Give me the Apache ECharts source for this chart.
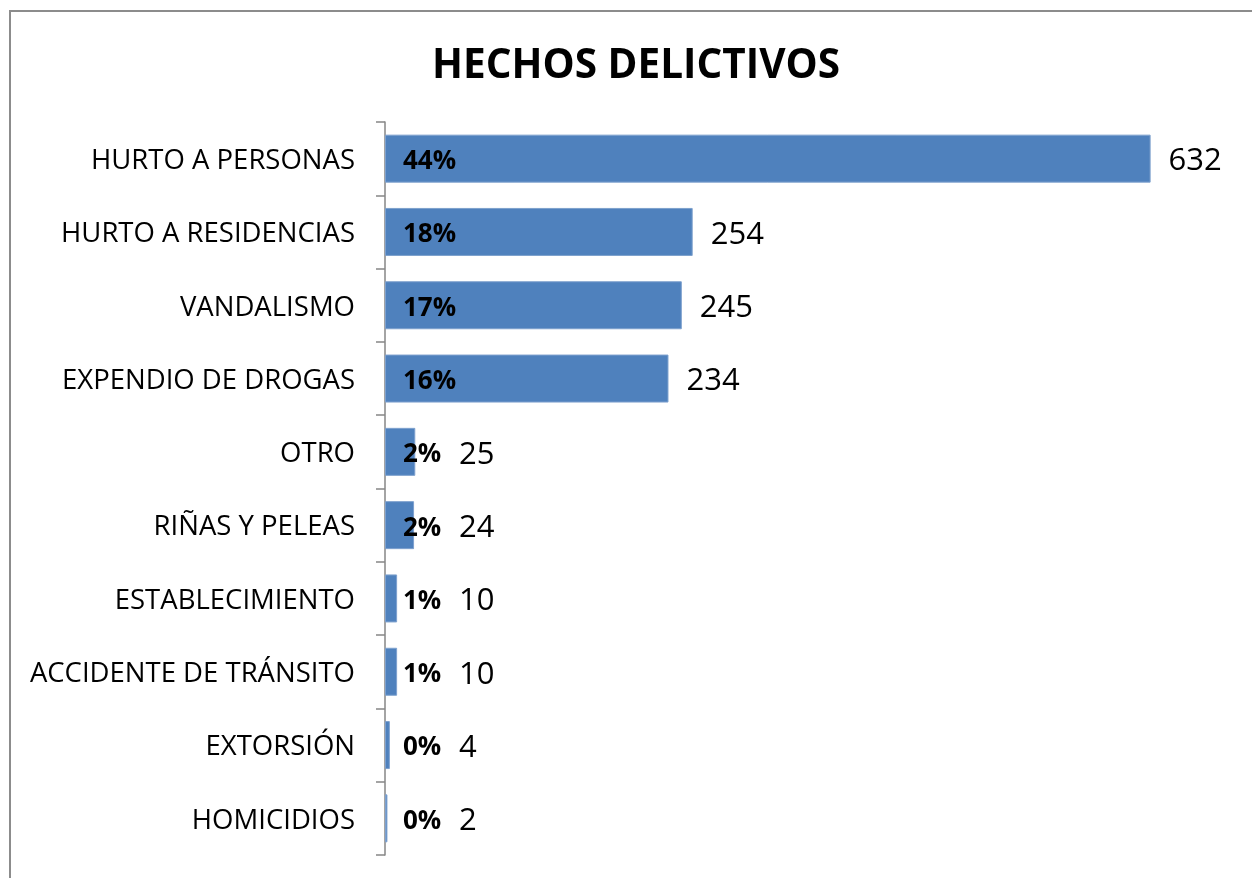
<!DOCTYPE html>
<html>
<head>
<meta charset="utf-8">
<script src="https://cdn.jsdelivr.net/npm/echarts@6/dist/echarts.min.js"></script>
<style>
  html, body { margin: 0; padding: 0; background: #fff; }
  #chart { width: 1252px; height: 878px; }
</style>
</head>
<body>
<div id="chart"></div>
<script>
// datos del gráfico
const categorias = ['HURTO A PERSONAS', 'HURTO A RESIDENCIAS', 'VANDALISMO', 'EXPENDIO DE DROGAS', 'OTRO',
  'RIÑAS Y PELEAS', 'ESTABLECIMIENTO', 'ACCIDENTE DE TRÁNSITO', 'EXTORSIÓN', 'HOMICIDIOS'];
const casos = [632, 254, 245, 234, 25, 24, 10, 10, 4, 2];
const porcentajes = [44, 18, 17, 16, 2, 2, 1, 1, 0, 0];

const fuente = '"Open Sans", "Noto Sans", sans-serif';
const distValor = 18;   // separación etiqueta de valor / fin de barra
const minXValor = 459;  // las etiquetas de valor no pisan el porcentaje
const bajarTexto = 3;   // ajuste vertical de las etiquetas
const chart = echarts.init(document.getElementById('chart'));

chart.setOption({
  animation: false,
  title: {
    text: 'HECHOS DELICTIVOS',
    left: 427,
    top: 41,
    textStyle: { fontFamily: fuente, fontWeight: 'bold', fontSize: 40.5, color: '#000' }
  },
  graphic: [{
    type: 'rect',
    shape: { x: 10, y: 11, width: 1400, height: 1000 },
    style: { fill: 'none', stroke: '#8c8c8c', lineWidth: 2 }
  }],
  grid: { left: 385, top: 122, width: 848, bottom: 23 },
  xAxis: {
    type: 'value',
    min: 0,
    max: 700,
    show: false
  },
  yAxis: {
    type: 'category',
    data: categorias,
    inverse: true,
    axisLine: { lineStyle: { color: '#868686', width: 1.5 } },
    axisTick: { show: true, length: 9, lineStyle: { color: '#868686', width: 1.5 } },
    axisLabel: {
      margin: 30,
      formatter: v => '{c|' + v + '}',
      rich: {
        c: { fontFamily: fuente, fontSize: 27.5, color: '#000', padding: [5, 0, 0, 0] }
      }
    }
  },
  series: [
    {
      // barras con el número de casos
      type: 'bar',
      data: casos,
      barWidth: 48,
      itemStyle: { color: '#4F81BD', borderColor: '#7EA1CE', borderWidth: 1 },
      label: {
        show: true,
        position: 'right',
        distance: distValor,
        offset: [0, bajarTexto],
        fontFamily: fuente,
        fontSize: 31,
        color: '#000'
      },
      z: 2
    },
    {
      // porcentaje dentro de la barra
      type: 'bar',
      data: casos,
      barWidth: 48,
      barGap: '-100%',
      itemStyle: { color: 'transparent' },
      label: {
        show: true,
        position: 'insideLeft',
        distance: 18,
        offset: [0, bajarTexto],
        fontFamily: fuente,
        fontWeight: 'bold',
        fontSize: 26,
        color: '#000',
        formatter: p => porcentajes[p.dataIndex] + '%'
      },
      silent: true,
      z: 3
    }
  ]
});

// desplazar las etiquetas de las barras cortas a la derecha del porcentaje
const datosValor = casos.map((v, i) => {
  const finBarra = chart.convertToPixel({ xAxisIndex: 0 }, v);
  const dx = Math.max(0, minXValor - (finBarra + distValor));
  return dx > 0 ? { value: v, label: { offset: [dx, bajarTexto] } } : v;
});
chart.setOption({ series: [{ data: datosValor }, {}] });
</script>
</body>
</html>
